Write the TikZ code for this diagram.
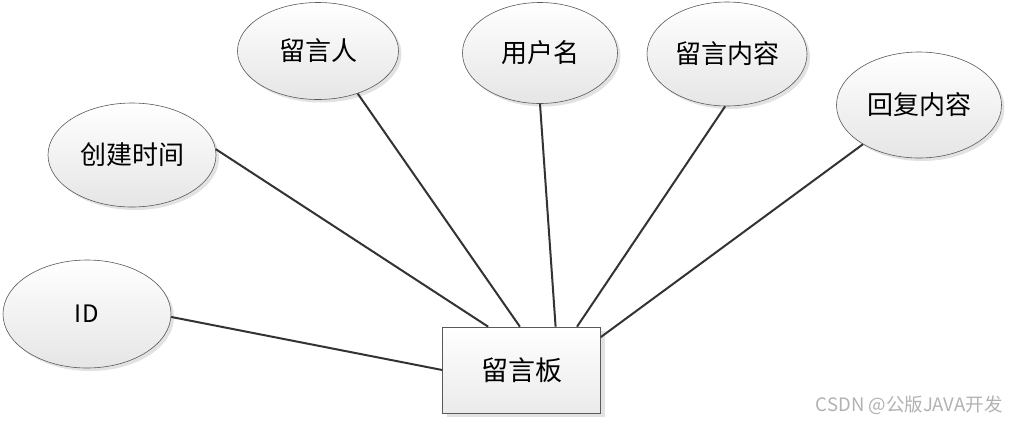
\documentclass[tikz,border=0pt]{standalone}
\usepackage{fontspec}
\setmainfont{Noto Sans CJK SC}
\usetikzlibrary{shapes.geometric,shadows,calc}
\begin{document}
\begin{tikzpicture}[x=1bp,y=-1bp,
  attr/.style={ellipse, draw=black!65, line width=0.6bp, top color=white, bottom color=black!10,
     drop shadow={shadow xshift=3bp, shadow yshift=-3bp, fill=black!22},
     inner sep=0pt, font=\fontsize{26bp}{30bp}\selectfont},
  ent/.style={rectangle, draw=black!65, line width=0.6bp, top color=white, bottom color=black!8,
     drop shadow={shadow xshift=4bp, shadow yshift=-4bp, fill=black!22},
     inner sep=0pt, font=\fontsize{27bp}{31bp}\selectfont},
  link/.style={draw=black!80, line width=2bp}]
\useasboundingbox (0,0) rectangle (1011,424);
\fill[white] (0,0) rectangle (1011,424);
\node[attr, minimum width=168bp, minimum height=108bp, font=\fontsize{24bp}{28bp}\selectfont] (id) at (87,314) {I\kern1bp D};
\node[attr, minimum width=168bp, minimum height=104bp] (ctime) at (132,155) {创建时间};
\node[attr, minimum width=161bp, minimum height=97bp] (person) at (318,51) {留言人};
\node[attr, minimum width=155bp, minimum height=101bp] (uname) at (540,53) {用户名};
\node[attr, minimum width=160bp, minimum height=104bp] (content) at (727,54) {留言内容};
\node[attr, minimum width=165bp, minimum height=106bp] (reply) at (919,105) {回复内容};
\node[ent, minimum width=158bp, minimum height=86bp] (board) at (521.5,370) {留言板};
\draw[link] (id.-2) -- (board.west);
\draw[link] (ctime.4) -- ($(board.north west)!0.29!(board.north east)$);
\draw[link] (person.-47) -- ($(board.north west)!0.49!(board.north east)$);
\draw[link] (uname.-90) -- ($(board.north west)!0.715!(board.north east)$);
\draw[link] (content.-92) -- ($(board.north west)!0.85!(board.north east)$);
\draw[link] (reply.-145) -- ($(board.north east)!0.12!(board.south east)$);
\node[text=black!30, font=\fontsize{18.5bp}{22bp}\selectfont, anchor=east] (wm) at (1006,405) {CSDN @公版JAVA开发};
\end{tikzpicture}
\end{document}
